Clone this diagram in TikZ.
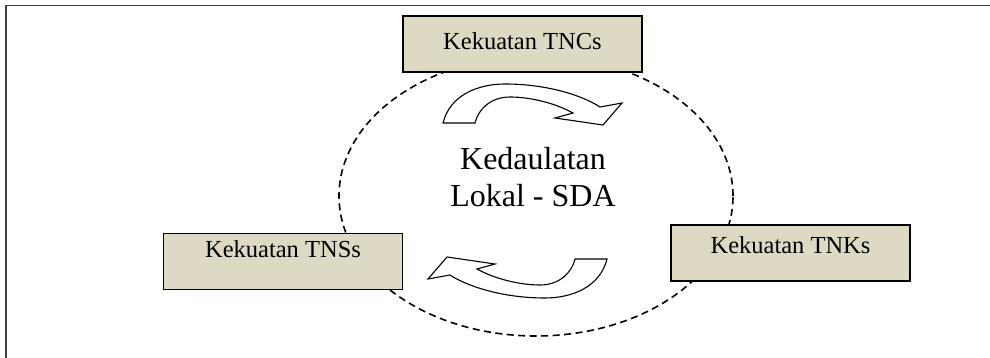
\documentclass[tikz,border=0pt]{standalone}
\usepackage{fontspec}
\setmainfont{Liberation Serif}
\usetikzlibrary{shapes.geometric}
\definecolor{boxtan}{HTML}{DDD9C3}
\begin{document}
\begin{tikzpicture}[x=1pt,y=-1pt,
  kbox/.style={draw=black, line width=1.6pt, fill=boxtan, minimum width=239pt,
    minimum height=56pt, inner sep=0pt, font=\fontsize{24.5}{29}\selectfont},
  ring/.style={ellipse, draw=black, dash pattern=on 7pt off 4.5pt, line width=1.6pt,
    minimum width=394pt, minimum height=280pt, inner sep=0pt},
  bendarrow/.style={draw=black, fill=white, line width=1.1pt, line join=miter},
  bigtext/.style={align=center, inner sep=0pt, font=\fontsize{32}{37}\selectfont}]
\useasboundingbox (0,0) rectangle (990,358);
\draw[line width=1.8pt, black!75] (6,358) -- (6,5.5) -- (990,5.5);
\node[ring] (ring) at (536,196) {};
\node[kbox, text height=20pt, text depth=8pt] (tncs) at (522.5,44) {Kekuatan TNCs};
\node[kbox, text height=10pt, text depth=19pt] (tnss) at (283,261.5) {Kekuatan TNSs};
\node[kbox, text height=14pt, text depth=14pt] (tnks) at (790.5,253) {Kekuatan TNKs};
\path[bendarrow] (443,123) .. controls (450,95) and (478,84) .. (505,84)
  .. controls (550,84) and (585,97) .. (600,107) -- (622,103) -- (603,125)
  -- (555,118) -- (573,113) .. controls (555,103) and (530,97) .. (510,97)
  .. controls (490,97) and (478,110) .. (475,123) -- cycle;
\begin{scope}[rotate around={180:(525,191)}]
\path[bendarrow] (443,123) .. controls (450,95) and (478,84) .. (505,84)
  .. controls (550,84) and (585,97) .. (600,107) -- (622,103) -- (603,125)
  -- (555,118) -- (573,113) .. controls (555,103) and (530,97) .. (510,97)
  .. controls (490,97) and (478,110) .. (475,123) -- cycle;
\end{scope}
\node[bigtext] (core) at (533,177.5) {Kedaulatan\\Lokal - SDA};
\end{tikzpicture}
\end{document}
